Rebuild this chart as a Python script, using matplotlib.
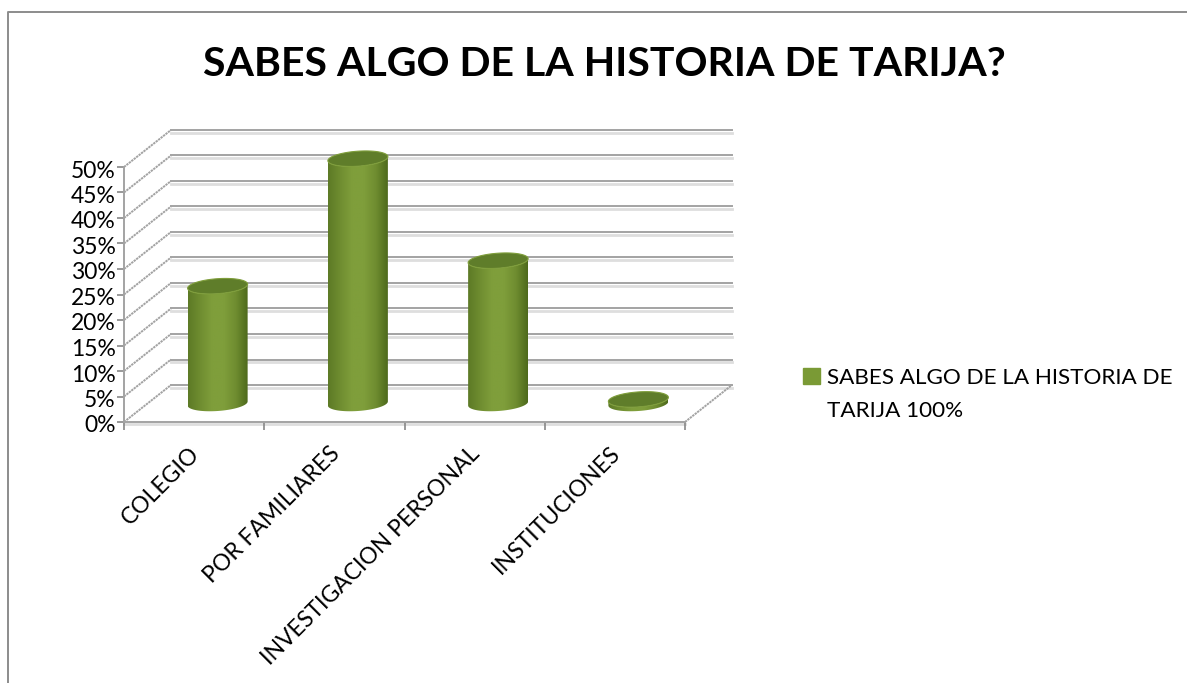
import numpy as np
import matplotlib
matplotlib.use("Agg")
import matplotlib.pyplot as plt
from matplotlib.patches import Patch, Polygon
from matplotlib.colors import LinearSegmentedColormap
from matplotlib.transforms import ScaledTranslation

categorias = ["COLEGIO", "POR FAMILIARES", "INVESTIGACION PERSONAL", "INSTITUCIONES"]
valores = [23, 48, 28, 0.8]
ticks_y = [0, 5, 10, 15, 20, 25, 30, 35, 40, 45, 50]
etiquetas_y = ["0%", "5%", "10%", "15%", "20%", "25%", "30%", "35%", "40%", "45%", "50%"]
titulo = "SABES ALGO DE LA HISTORIA DE TARIJA?"
leyenda = ["SABES ALGO DE LA HISTORIA DE", "TARIJA 100%"]

plt.rcParams["font.family"] = ["Lato", "DejaVu Sans"]

W, H = 1187, 683
fig = plt.figure(figsize=(W / 100, H / 100), dpi=100)

# marco exterior, cortado abajo y a la derecha como en la captura
fig.add_artist(plt.Line2D([8 / W, 8 / W, 1], [0, 1 - 12 / H, 1 - 12 / H],
                          color="#8c8c8c", lw=1.4))

# ejes: piso frontal 124-685 px, 0% en y=422, 5% cada 25.5 px
# ylim llega a 60 para que los cilindros no queden recortados
ax = fig.add_axes([124 / W, 1 - 422 / H, (685 - 124) / W, 60 * 5.1 / H])
ax.set_xlim(0, 4)
ax.set_ylim(0, 60)
ax.patch.set_visible(False)

# profundidad del efecto 3D en unidades de datos
dx = 47 / (561 / 4)
dy = 37 / 5.1
ancho = 60 / (561 / 4)
alto_elipse = 7.5 / 5.1
incl = 0.27  # inclinacion de las elipses

gris = "#a3a3a3"
claro = "#dedede"

for t in ticks_y:
    ax.plot([dx, 4 + dx], [t + dy - 0.5, t + dy - 0.5], color=claro, lw=2, clip_on=False, zorder=1)
    ax.plot([dx, 4 + dx], [t + dy, t + dy], color=gris, lw=1.4, clip_on=False, zorder=1.1)
    ax.plot([0, dx], [t, t + dy], color=gris, lw=1.4, ls=(0, (1.2, 0.4)), clip_on=False, zorder=1.1)
ax.plot([4, 4 + dx], [0, dy], color=gris, lw=1.4, ls=(0, (1.2, 0.4)), clip_on=False, zorder=1.1)

ax.plot([0, 4], [-0.3, -0.3], color=claro, lw=2, clip_on=False, zorder=1)

for s in ["top", "right"]:
    ax.spines[s].set_visible(False)
for s in ["left", "bottom"]:
    ax.spines[s].set_color(gris)
    ax.spines[s].set_linewidth(1.4)
ax.spines["left"].set_bounds(0, 50)

ax.set_yticks(ticks_y)
ax.set_yticklabels(etiquetas_y, fontsize=16.5)
ax.set_xticks(range(5))
ax.set_xticklabels([])
ax.tick_params(axis="both", color="#888888", length=6, width=1.2, pad=2)
ax.tick_params(axis="y", length=5, pad=1)
# etiquetas del eje y 2 px mas abajo
baja = ScaledTranslation(0, -2 / 100, fig.dpi_scale_trans)
for lab in ax.get_yticklabels():
    lab.set_transform(lab.get_transform() + baja)

for i, c in enumerate(categorias):
    ax.annotate(c, (i + 0.5, 0), xytext=(-4, -15), textcoords="offset points",
                rotation=45, rotation_mode="anchor", ha="right", va="top",
                fontsize=16.5, annotation_clip=False)

cmap = LinearSegmentedColormap.from_list(
    "cil", ["#5d7a26", "#6f8d30", "#7f9e3b", "#7f9e3b", "#6f8d30", "#4e6a1c"])
grad = np.linspace(0, 1, 128).reshape(1, -1)


def elipse(cx, cy, s):
    px = cx + ancho / 2 * np.cos(s)
    py = cy + alto_elipse * np.sin(s) + incl * alto_elipse * np.cos(s)
    return px, py


for i, v in enumerate(valores):
    cx = i + 0.5 + dx / 2
    y0 = dy / 2
    y1 = dy / 2 + v
    s = np.linspace(np.pi, 2 * np.pi, 40)
    low_x, low_y = elipse(cx, y0, s)
    up_x, up_y = elipse(cx, y1, s[::-1])
    verts = np.column_stack([np.r_[low_x, up_x], np.r_[low_y, up_y]])
    cuerpo = Polygon(verts, closed=True, fc="none", ec="none")
    ax.add_patch(cuerpo)
    im = ax.imshow(grad, cmap=cmap, aspect="auto", zorder=3, interpolation="bilinear",
                   extent=[cx - ancho / 2, cx + ancho / 2, y0 - 3, y1 + 3])
    im.set_clip_path(cuerpo)
    tx, ty = elipse(cx, y1, np.linspace(0, 2 * np.pi, 80))
    ax.add_patch(Polygon(np.column_stack([tx, ty]), closed=True, fc="#5f7d2a", ec="#7f9e3b",
                         lw=0.8, zorder=4))

ax.set_xlim(0, 4)
ax.set_ylim(0, 60)

fig.text(604 / W, 1 - 65 / H, titulo, fontsize=29.5, fontweight="bold", ha="center", va="center")

h = [Patch(fc="#7a9a35", ec="#7a9a35"), Patch(visible=False)]
fig.legend(h, leyenda, loc="upper left", bbox_to_anchor=(794 / W, 1 - 359 / H), frameon=False,
           fontsize=16.2, handlelength=0.75, handleheight=0.75, handletextpad=0.3,
           labelspacing=0.57, borderpad=0.4, borderaxespad=0)

fig.savefig("out.png", dpi=100)
